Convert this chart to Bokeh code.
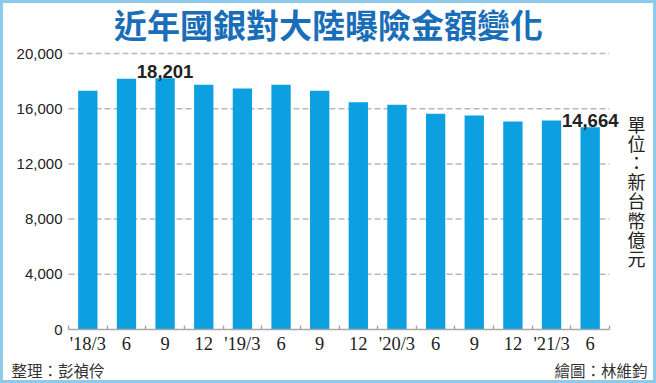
from bokeh.plotting import figure
from bokeh.models import Range1d, FixedTicker, Label, ColumnDataSource, NumeralTickFormatter
from bokeh.core.properties import value
from bokeh.embed import file_html
from bokeh.resources import INLINE

# ---- data ----
title_text = "近年國銀對大陸曝險金額變化"
quarters = ["'18/3", "6", "9", "12", "'19/3", "6", "9", "12",
            "'20/3", "6", "9", "12", "'21/3", "6"]
exposure = [17300, 18170, 18201, 17730, 17460, 17730, 17300, 16460,
            16280, 15640, 15510, 15070, 15140, 14664]
labelled = [2, 13]  # indices of bars carrying a value label
y_ticks = [0, 4000, 8000, 12000, 16000, 20000]
unit_text = "單位：新台幣億元"
source_left = "整理：彭禎伶"
source_right = "繪圖：林維鈞"

BAR = "#0ca0e0"
TXT = "#222222"
BLUE = "#1a6eb8"
GRID = "#b9b9b9"
AXIS = "#a8a8a8"
FRAME = "#8ecbea"

W, H = 656, 383
n = len(quarters)
y_max = y_ticks[-1]
xs = [i + 0.5 for i in range(n)]

# canvas pixel layout of the plotting area (frame covers the whole canvas)
FL, FR = 68, 609      # x of first / last category boundary
Y0, YT = 329, 53      # y of value 0 / value y_max
pxx = (FR - FL) / n
pyy = y_max / (Y0 - YT)
x_range = Range1d(-FL / pxx, n + (W - FR) / pxx)
y_range = Range1d(-(H - Y0) * pyy, y_max + YT * pyy)

p = figure(width=W, height=H, output_backend="svg", toolbar_location=None,
           x_range=x_range, y_range=y_range, title=None,
           min_border=0, min_border_left=0, min_border_right=0,
           min_border_top=0, min_border_bottom=0)
p.outline_line_color = FRAME
p.outline_line_width = 5
p.background_fill_color = "white"
p.border_fill_color = "white"
p.xgrid.visible = False
p.ygrid.visible = False

# dashed grid lines over the category span
gy = y_ticks[1:]
p.segment(x0=[0] * len(gy), x1=[n] * len(gy), y0=gy, y1=gy,
          line_color=GRID, line_width=1.5, line_dash="6 3")

p.vbar(x=xs, top=exposure, width=0.5, color=BAR, line_color=None)

# value labels
lsrc = ColumnDataSource(dict(x=[xs[i] for i in labelled],
                             y=[exposure[i] for i in labelled],
                             t=[f"{exposure[i]:,}" for i in labelled]))
p.text(x="x", y="y", text="t", source=lsrc, text_align="center",
       text_baseline="alphabetic", y_offset=-7,
       text_font=value("Liberation Sans"), text_font_style="bold",
       text_font_size="18.5px", text_color=TXT)

# x axis, fixed at value 0
xa = p.xaxis[0]
xa.fixed_location = 0
xa.bounds = (0, n)
xa.ticker = FixedTicker(ticks=xs, minor_ticks=list(range(n + 1)))
xa.major_label_overrides = {x: q for x, q in zip(xs, quarters)}
xa.major_tick_line_color = None
xa.major_tick_in = 0
xa.major_tick_out = 0
xa.minor_tick_in = 4
xa.minor_tick_out = 0
xa.minor_tick_line_color = AXIS
xa.minor_tick_line_width = 1.5
xa.axis_line_color = AXIS
xa.axis_line_width = 1.5
xa.major_label_standoff = 4
xa.major_label_text_font = "Liberation Sans Narrow"
xa.major_label_text_font_size = "18.5px"
xa.major_label_text_color = TXT

# y axis, fixed at the first category boundary
ya = p.yaxis[0]
ya.fixed_location = 0
ya.bounds = (0, y_max)
ya.ticker = FixedTicker(ticks=y_ticks)
ya.formatter = NumeralTickFormatter(format="0,0")
ya.axis_line_color = None
ya.major_tick_line_color = None
ya.major_tick_in = 0
ya.major_tick_out = 0
ya.minor_tick_line_color = None
ya.major_label_standoff = 6
ya.major_label_text_font = "Liberation Sans"
ya.major_label_text_font_size = "15px"
ya.major_label_text_color = TXT

# title and side texts (screen units: frame == canvas, origin bottom-left)
p.add_layout(Label(x=W / 2, y=H - 23, x_units="screen", y_units="screen",
                   text=title_text, text_align="center", text_baseline="middle",
                   text_font="Noto Sans CJK TC", text_font_style="bold",
                   text_font_size="33px", text_color=BLUE))
p.add_layout(Label(x=636, y=H - 110, x_units="screen", y_units="screen",
                   text="\n".join(unit_text), text_align="center",
                   text_baseline="top", text_line_height=0.74,
                   text_font="Noto Sans CJK TC", text_font_size="18px",
                   text_color=TXT))
p.add_layout(Label(x=11, y=H - 369, x_units="screen", y_units="screen",
                   text=source_left, text_align="left", text_baseline="middle",
                   text_font="Noto Sans CJK TC", text_font_size="15.5px",
                   text_color="#333333"))
p.add_layout(Label(x=647, y=H - 369, x_units="screen", y_units="screen",
                   text=source_right, text_align="right", text_baseline="middle",
                   text_font="Noto Sans CJK TC", text_font_size="15.5px",
                   text_color="#333333"))

open("out.html", "w").write(file_html(p, INLINE))
